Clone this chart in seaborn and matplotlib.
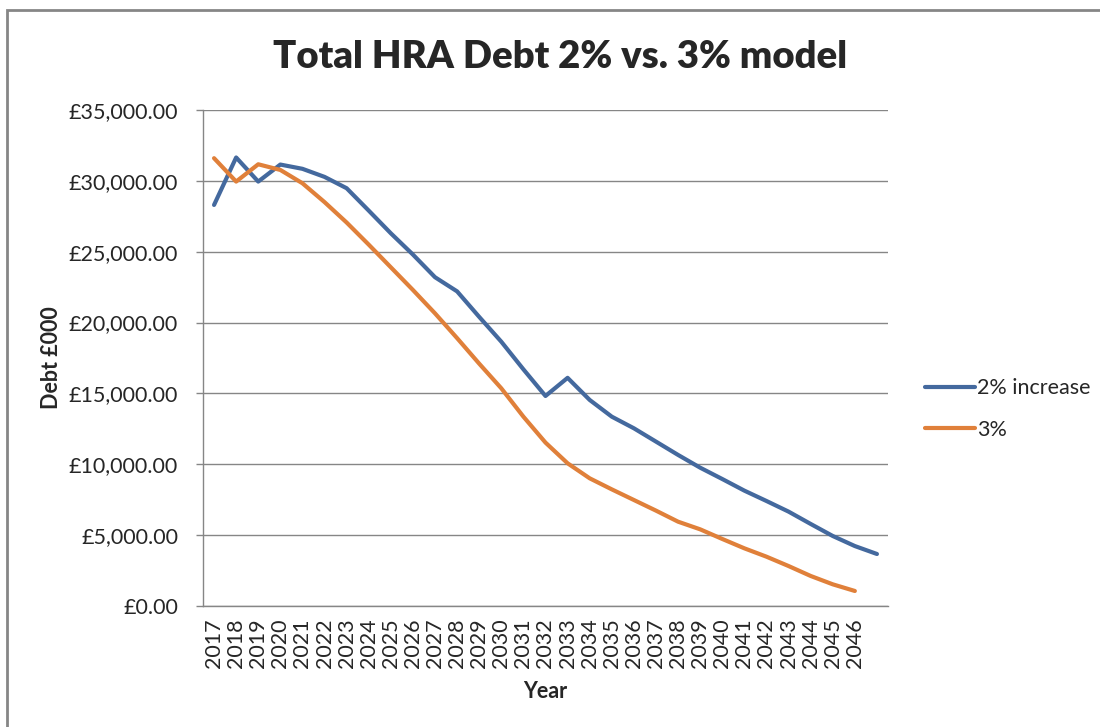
import matplotlib
matplotlib.use('Agg')
import matplotlib.pyplot as plt
import matplotlib.patches as mpatches
from matplotlib.ticker import FuncFormatter
import numpy as np
import pandas as pd
import seaborn as sns

years = [str(y) for y in range(2017, 2047)] + ['']

debt_2pct = [28300, 31650, 29950, 31150, 30850, 30280, 29480, 27900, 26300, 24800,
             23200, 22200, 20400, 18650, 16700, 14820, 16100, 14540, 13360, 12540,
             11600, 10660, 9760, 8960, 8140, 7410, 6660, 5790, 4940, 4230, 3670]
debt_3pct = [31600, 29950, 31170, 30770, 29830, 28500, 27060, 25500, 23900, 22300,
             20650, 18900, 17100, 15360, 13360, 11530, 10070, 9010, 8230, 7480,
             6730, 5950, 5410, 4730, 4070, 3480, 2820, 2120, 1530, 1060, np.nan]

series_names = ['2% increase', '3%']
series_colors = ['#44699e', '#e0803a']

df = pd.DataFrame({
    'pos': list(range(len(years))) * 2,
    'debt': debt_2pct + debt_3pct,
    'series': [series_names[0]] * len(years) + [series_names[1]] * len(years),
})

sns.set_style('white')
plt.rcParams['font.family'] = ['Lato', 'DejaVu Sans']

fig = plt.figure(figsize=(11, 7.27), dpi=100)
ax = fig.add_axes([203 / 1100, 1 - 606 / 727, 685 / 1100, 496 / 727])

sns.lineplot(data=df, x='pos', y='debt', hue='series', hue_order=series_names,
             palette=series_colors, linewidth=3, ax=ax, legend=False)

ax.set_xlim(-0.5, len(years) - 0.5)
ax.set_ylim(0, 35000)
ax.set_yticks(range(0, 35001, 5000))
ax.yaxis.set_major_formatter(FuncFormatter(lambda v, p: '£{:,.2f}'.format(v)))
ax.set_xticks(range(len(years)))
ax.set_xticklabels(years, rotation=90)
ax.tick_params(axis='y', length=5, width=1, color='#868686', pad=13, labelsize=15.5, left=True)
ax.tick_params(axis='x', length=0, pad=9, labelsize=15.5)
ax.yaxis.grid(True, color='#868686', linewidth=1)
for s in ['top', 'right']:
    ax.spines[s].set_visible(False)
for s in ['left', 'bottom']:
    ax.spines[s].set_color('#868686')
    ax.spines[s].set_linewidth(1)

ax.set_xlabel('Year', fontsize=15.5, fontweight='bold', labelpad=9)
ax.set_ylabel('Debt £000', fontsize=15.5, fontweight='bold')
# label anchor is the right edge of the rotated text
ax.yaxis.set_label_coords((62 - 203) / 685, 0.5)
fig.text(560 / 1100, 1 - 57 / 727, 'Total HRA Debt 2% vs. 3% model', fontsize=27.5,
         fontweight='heavy', ha='center', va='center')

handles = [plt.Line2D([], [], color=c, linewidth=3) for c in series_colors]
fig.legend(handles, series_names, loc='center left', bbox_to_anchor=(906 / 1100, 1 - 409 / 727),
           frameon=False, fontsize=15.5, handlelength=2.3, handletextpad=0.1, labelspacing=1.0)

fig.patches.append(mpatches.Rectangle((7 / 1100, -0.01), 1.0, 1 - 10 / 727 + 0.01,
                                      transform=fig.transFigure, fill=False,
                                      edgecolor='#868686', linewidth=2))

fig.savefig('out.png', dpi=100)
